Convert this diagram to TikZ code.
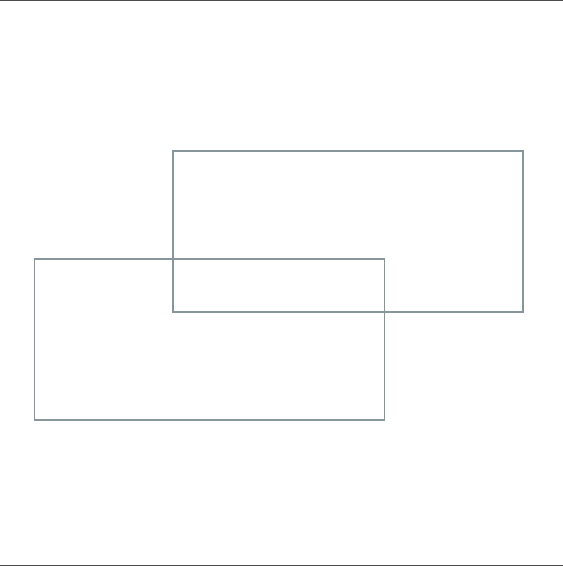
\documentclass[tikz,border=0pt]{standalone}
\tikzset{box/.style = {draw = boxline, line width = 1.4pt, minimum width = 350pt, minimum height = 161pt, inner sep = 0pt}}
\tikzset{edge/.style = {draw = black!70, line width = 1.5pt}}
\definecolor{boxline}{RGB}{135,150,155}

\begin{document}
\begin{tikzpicture}[x = 1pt, y = -1pt]
        \useasboundingbox (0,0) rectangle (563,566);

        \node[box] (upper) at (348,231.5) {};
        \node[box] (lower) at (209.5,339.5) {};

        \coordinate (tl) at (0,0.5);
        \coordinate (tr) at (563,0.5);
        \coordinate (bl) at (0,565.5);
        \coordinate (br) at (563,565.5);
        \path[edge] (tl) -- (tr);
        \path[edge] (bl) -- (br);
    \end{tikzpicture}
\end{document}
